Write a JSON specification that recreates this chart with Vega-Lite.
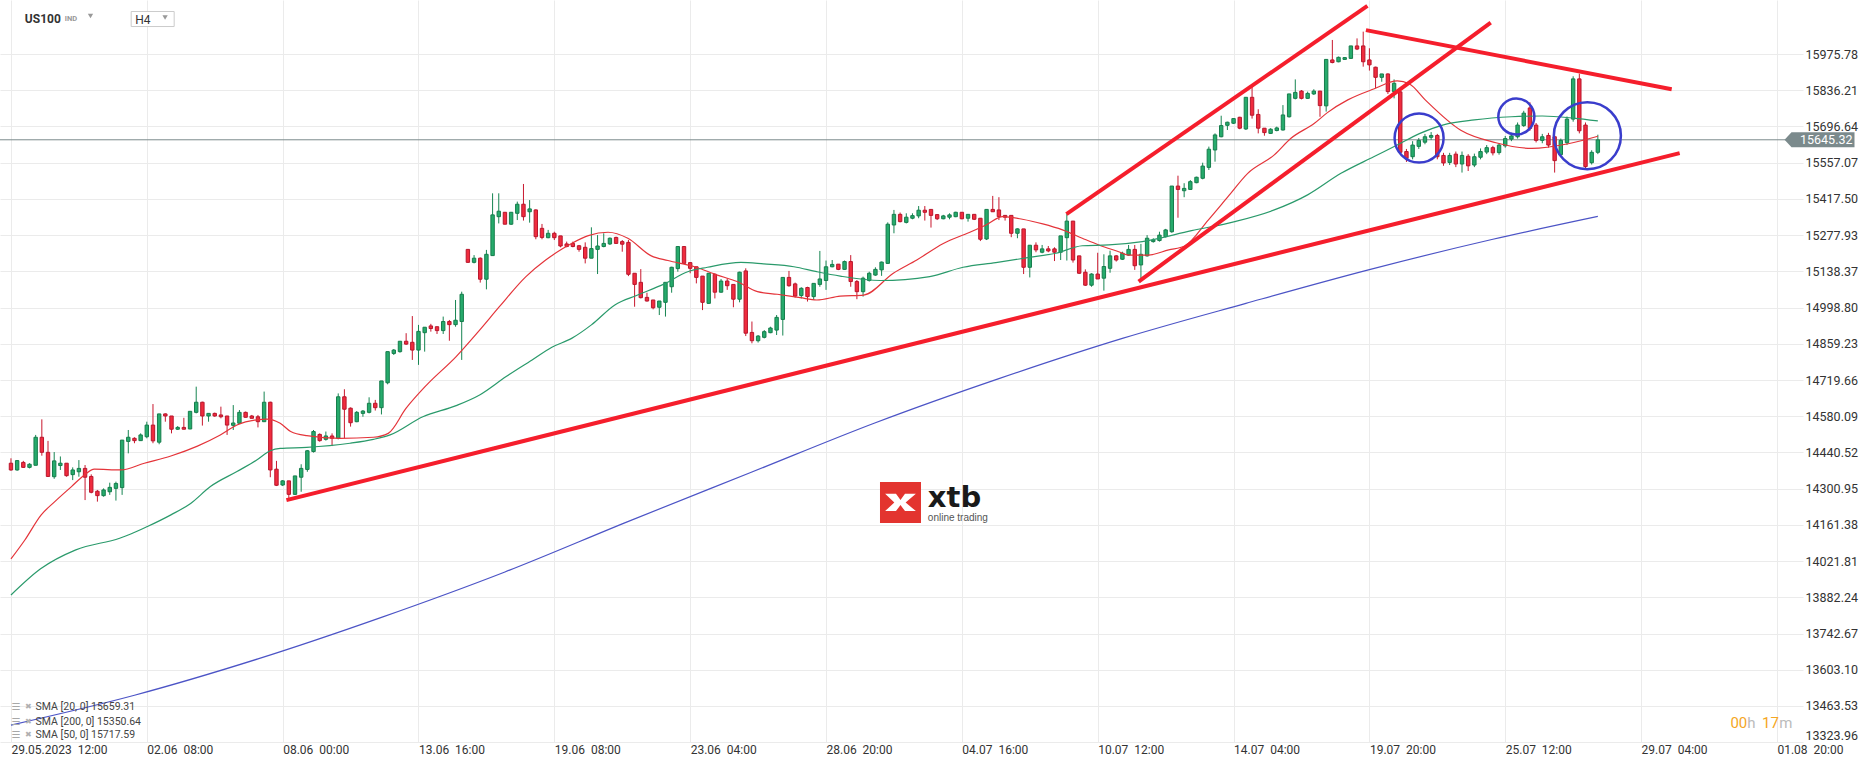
{
"$schema":"https://vega.github.io/schema/vega-lite/v6.json",
"width":1803,"height":742.2,"autosize":{"type":"none"},"padding":{"left":0,"top":0,"right":63,"bottom":24.8},"background":"white",
"config":{"view":{"stroke":null},"font":"Roboto","axis":{"ticks":false,"domain":false,"gridColor":"#ebebeb","labelFont":"Roboto","labelColor":"#333333","labelOverlap":false}},
"datasets":{
"candles":[
{"i":0,"o":14399,"h":14418,"l":14370,"c":14373},{"i":1,"o":14373,"h":14411,"l":14370,"c":14409},{"i":2,"o":14402,"h":14408,"l":14381,"c":14383},{"i":3,"o":14383,"h":14399,"l":14379,"c":14395},{"i":4,"o":14391,"h":14508,"l":14391,"c":14499},{"i":5,"o":14499,"h":14568,"l":14428,"c":14441},{"i":6,"o":14441,"h":14485,"l":14348,"c":14348},{"i":7,"o":14347,"h":14442,"l":14339,"c":14408},{"i":8,"o":14390,"h":14425,"l":14373,"c":14399},{"i":9,"o":14399,"h":14399,"l":14347,"c":14351},
{"i":10,"o":14355,"h":14383,"l":14334,"c":14373},{"i":11,"o":14366,"h":14411,"l":14347,"c":14379},{"i":12,"o":14379,"h":14392,"l":14257,"c":14345},{"i":13,"o":14348,"h":14356,"l":14283,"c":14287},{"i":14,"o":14291,"h":14296,"l":14251,"c":14274},{"i":15,"o":14274,"h":14302,"l":14270,"c":14296},{"i":16,"o":14289,"h":14324,"l":14277,"c":14306},{"i":17,"o":14302,"h":14328,"l":14255,"c":14321},{"i":18,"o":14305,"h":14488,"l":14277,"c":14488},{"i":19,"o":14483,"h":14527,"l":14437,"c":14499},
{"i":20,"o":14495,"h":14499,"l":14476,"c":14486},{"i":21,"o":14486,"h":14514,"l":14485,"c":14508},{"i":22,"o":14501,"h":14559,"l":14495,"c":14546},{"i":23,"o":14546,"h":14627,"l":14476,"c":14485},{"i":24,"o":14480,"h":14589,"l":14472,"c":14589},{"i":25,"o":14589,"h":14591,"l":14559,"c":14581},{"i":26,"o":14581,"h":14581,"l":14514,"c":14530},{"i":27,"o":14530,"h":14542,"l":14527,"c":14537},{"i":28,"o":14537,"h":14574,"l":14530,"c":14530},{"i":29,"o":14531,"h":14599,"l":14530,"c":14599},
{"i":30,"o":14595,"h":14694,"l":14591,"c":14634},{"i":31,"o":14634,"h":14636,"l":14544,"c":14581},{"i":32,"o":14581,"h":14591,"l":14559,"c":14591},{"i":33,"o":14591,"h":14594,"l":14578,"c":14581},{"i":34,"o":14585,"h":14617,"l":14572,"c":14578},{"i":35,"o":14581,"h":14581,"l":14508,"c":14546},{"i":36,"o":14545,"h":14623,"l":14527,"c":14554},{"i":37,"o":14553,"h":14604,"l":14550,"c":14595},{"i":38,"o":14595,"h":14598,"l":14575,"c":14576},{"i":39,"o":14581,"h":14585,"l":14572,"c":14572},
{"i":40,"o":14578,"h":14585,"l":14537,"c":14559},{"i":41,"o":14559,"h":14675,"l":14559,"c":14634},{"i":42,"o":14634,"h":14636,"l":14345,"c":14373},{"i":43,"o":14376,"h":14408,"l":14311,"c":14314},{"i":44,"o":14315,"h":14334,"l":14311,"c":14331},{"i":45,"o":14331,"h":14331,"l":14264,"c":14279},{"i":46,"o":14279,"h":14350,"l":14277,"c":14350},{"i":47,"o":14345,"h":14395,"l":14289,"c":14379},{"i":48,"o":14375,"h":14450,"l":14366,"c":14447},{"i":49,"o":14444,"h":14527,"l":14440,"c":14521},
{"i":50,"o":14510,"h":14514,"l":14482,"c":14486},{"i":51,"o":14491,"h":14521,"l":14486,"c":14504},{"i":52,"o":14504,"h":14514,"l":14465,"c":14495},{"i":53,"o":14495,"h":14668,"l":14491,"c":14655},{"i":54,"o":14655,"h":14684,"l":14495,"c":14607},{"i":55,"o":14611,"h":14614,"l":14540,"c":14555},{"i":56,"o":14559,"h":14600,"l":14557,"c":14595},{"i":57,"o":14591,"h":14604,"l":14578,"c":14600},{"i":58,"o":14595,"h":14653,"l":14591,"c":14630},{"i":59,"o":14630,"h":14643,"l":14602,"c":14613},
{"i":60,"o":14613,"h":14716,"l":14587,"c":14716},{"i":61,"o":14709,"h":14829,"l":14703,"c":14829},{"i":62,"o":14822,"h":14839,"l":14816,"c":14835},{"i":63,"o":14829,"h":14869,"l":14825,"c":14869},{"i":64,"o":14869,"h":14900,"l":14855,"c":14858},{"i":65,"o":14865,"h":14966,"l":14797,"c":14835},{"i":66,"o":14835,"h":14932,"l":14778,"c":14907},{"i":67,"o":14902,"h":14923,"l":14829,"c":14923},{"i":68,"o":14928,"h":14936,"l":14906,"c":14918},{"i":69,"o":14925,"h":14925,"l":14897,"c":14910},
{"i":70,"o":14910,"h":14964,"l":14897,"c":14945},{"i":71,"o":14945,"h":14951,"l":14871,"c":14933},{"i":72,"o":14933,"h":15028,"l":14925,"c":14950},{"i":73,"o":14945,"h":15060,"l":14797,"c":15050},{"i":74,"o":15223,"h":15223,"l":15172,"c":15173},{"i":75,"o":15173,"h":15201,"l":15169,"c":15189},{"i":76,"o":15189,"h":15192,"l":15095,"c":15108},{"i":77,"o":15108,"h":15221,"l":15069,"c":15204},{"i":78,"o":15199,"h":15439,"l":15199,"c":15356},{"i":79,"o":15349,"h":15439,"l":15323,"c":15370},
{"i":80,"o":15366,"h":15366,"l":15320,"c":15320},{"i":81,"o":15320,"h":15366,"l":15317,"c":15366},{"i":82,"o":15362,"h":15407,"l":15336,"c":15397},{"i":83,"o":15397,"h":15475,"l":15334,"c":15349},{"i":84,"o":15368,"h":15413,"l":15326,"c":15379},{"i":85,"o":15375,"h":15377,"l":15262,"c":15272},{"i":86,"o":15304,"h":15321,"l":15262,"c":15269},{"i":87,"o":15268,"h":15298,"l":15266,"c":15285},{"i":88,"o":15285,"h":15291,"l":15259,"c":15268},{"i":89,"o":15275,"h":15275,"l":15231,"c":15236},
{"i":90,"o":15244,"h":15253,"l":15231,"c":15234},{"i":91,"o":15246,"h":15253,"l":15231,"c":15234},{"i":92,"o":15237,"h":15240,"l":15214,"c":15223},{"i":93,"o":15231,"h":15250,"l":15169,"c":15189},{"i":94,"o":15189,"h":15308,"l":15189,"c":15226},{"i":95,"o":15223,"h":15278,"l":15128,"c":15236},{"i":96,"o":15234,"h":15285,"l":15231,"c":15246},{"i":97,"o":15244,"h":15269,"l":15240,"c":15266},{"i":98,"o":15269,"h":15272,"l":15244,"c":15246},{"i":99,"o":15253,"h":15259,"l":15214,"c":15243},
{"i":100,"o":15250,"h":15259,"l":15120,"c":15127},{"i":101,"o":15131,"h":15131,"l":15002,"c":15088},{"i":102,"o":15096,"h":15147,"l":15034,"c":15037},{"i":103,"o":15038,"h":15056,"l":15022,"c":15024},{"i":104,"o":15028,"h":15028,"l":14992,"c":14998},{"i":105,"o":15000,"h":15024,"l":14970,"c":15024},{"i":106,"o":15019,"h":15096,"l":14964,"c":15096},{"i":107,"o":15079,"h":15156,"l":15056,"c":15154},{"i":108,"o":15149,"h":15234,"l":15137,"c":15234},{"i":109,"o":15234,"h":15234,"l":15169,"c":15169},
{"i":110,"o":15172,"h":15172,"l":15131,"c":15150},{"i":111,"o":15156,"h":15156,"l":15092,"c":15115},{"i":112,"o":15120,"h":15120,"l":14989,"c":15019},{"i":113,"o":15015,"h":15131,"l":15013,"c":15131},{"i":114,"o":15127,"h":15131,"l":15034,"c":15058},{"i":115,"o":15058,"h":15109,"l":15056,"c":15101},{"i":116,"o":15101,"h":15111,"l":15067,"c":15083},{"i":117,"o":15088,"h":15088,"l":15000,"c":15031},{"i":118,"o":15031,"h":15137,"l":15019,"c":15135},{"i":119,"o":15140,"h":15150,"l":14889,"c":14900},
{"i":120,"o":14903,"h":14945,"l":14861,"c":14871},{"i":121,"o":14871,"h":14893,"l":14864,"c":14889},{"i":122,"o":14884,"h":14912,"l":14880,"c":14906},{"i":123,"o":14902,"h":14925,"l":14900,"c":14920},{"i":124,"o":14912,"h":14970,"l":14893,"c":14961},{"i":125,"o":14953,"h":15115,"l":14891,"c":15115},{"i":126,"o":15115,"h":15140,"l":15079,"c":15083},{"i":127,"o":15090,"h":15095,"l":15037,"c":15043},{"i":128,"o":15045,"h":15077,"l":15034,"c":15073},{"i":129,"o":15076,"h":15079,"l":15022,"c":15041},
{"i":130,"o":15041,"h":15092,"l":15028,"c":15092},{"i":131,"o":15088,"h":15217,"l":15079,"c":15109},{"i":132,"o":15103,"h":15180,"l":15067,"c":15156},{"i":133,"o":15156,"h":15182,"l":15154,"c":15165},{"i":134,"o":15166,"h":15166,"l":15143,"c":15146},{"i":135,"o":15146,"h":15180,"l":15144,"c":15176},{"i":136,"o":15176,"h":15201,"l":15079,"c":15099},{"i":137,"o":15099,"h":15105,"l":15031,"c":15060},{"i":138,"o":15060,"h":15118,"l":15041,"c":15112},{"i":139,"o":15103,"h":15137,"l":15099,"c":15131},
{"i":140,"o":15124,"h":15154,"l":15121,"c":15146},{"i":141,"o":15144,"h":15176,"l":15121,"c":15174},{"i":142,"o":15169,"h":15327,"l":15167,"c":15320},{"i":143,"o":15317,"h":15375,"l":15285,"c":15358},{"i":144,"o":15358,"h":15365,"l":15327,"c":15330},{"i":145,"o":15327,"h":15362,"l":15323,"c":15347},{"i":146,"o":15343,"h":15362,"l":15339,"c":15353},{"i":147,"o":15352,"h":15390,"l":15343,"c":15374},{"i":148,"o":15374,"h":15390,"l":15334,"c":15366},{"i":149,"o":15377,"h":15377,"l":15307,"c":15354},
{"i":150,"o":15357,"h":15359,"l":15336,"c":15341},{"i":151,"o":15341,"h":15356,"l":15339,"c":15352},{"i":152,"o":15347,"h":15362,"l":15339,"c":15356},{"i":153,"o":15349,"h":15368,"l":15347,"c":15366},{"i":154,"o":15366,"h":15366,"l":15339,"c":15341},{"i":155,"o":15343,"h":15358,"l":15330,"c":15358},{"i":156,"o":15358,"h":15358,"l":15336,"c":15339},{"i":157,"o":15343,"h":15343,"l":15255,"c":15262},{"i":158,"o":15263,"h":15377,"l":15259,"c":15377},{"i":159,"o":15377,"h":15429,"l":15368,"c":15368},
{"i":160,"o":15375,"h":15424,"l":15336,"c":15349},{"i":161,"o":15354,"h":15354,"l":15334,"c":15347},{"i":162,"o":15354,"h":15354,"l":15270,"c":15285},{"i":163,"o":15285,"h":15304,"l":15266,"c":15302},{"i":164,"o":15302,"h":15302,"l":15128,"c":15154},{"i":165,"o":15154,"h":15239,"l":15115,"c":15239},{"i":166,"o":15239,"h":15250,"l":15212,"c":15221},{"i":167,"o":15212,"h":15240,"l":15208,"c":15225},{"i":168,"o":15225,"h":15236,"l":15212,"c":15217},{"i":169,"o":15225,"h":15231,"l":15178,"c":15212},
{"i":170,"o":15212,"h":15275,"l":15182,"c":15275},{"i":171,"o":15268,"h":15359,"l":15180,"c":15332},{"i":172,"o":15332,"h":15332,"l":15172,"c":15182},{"i":173,"o":15198,"h":15198,"l":15128,"c":15131},{"i":174,"o":15135,"h":15146,"l":15082,"c":15085},{"i":175,"o":15085,"h":15131,"l":15079,"c":15128},{"i":176,"o":15128,"h":15210,"l":15109,"c":15109},{"i":177,"o":15112,"h":15204,"l":15064,"c":15157},{"i":178,"o":15150,"h":15218,"l":15133,"c":15198},{"i":179,"o":15198,"h":15201,"l":15176,"c":15182},
{"i":180,"o":15185,"h":15214,"l":15182,"c":15208},{"i":181,"o":15201,"h":15240,"l":15198,"c":15223},{"i":182,"o":15223,"h":15240,"l":15144,"c":15160},{"i":183,"o":15163,"h":15244,"l":15108,"c":15204},{"i":184,"o":15198,"h":15278,"l":15195,"c":15266},{"i":185,"o":15253,"h":15266,"l":15249,"c":15259},{"i":186,"o":15257,"h":15291,"l":15253,"c":15278},{"i":187,"o":15272,"h":15302,"l":15269,"c":15298},{"i":188,"o":15291,"h":15467,"l":15287,"c":15467},{"i":189,"o":15467,"h":15507,"l":15345,"c":15454},
{"i":190,"o":15449,"h":15478,"l":15424,"c":15458},{"i":191,"o":15454,"h":15490,"l":15452,"c":15484},{"i":192,"o":15480,"h":15503,"l":15478,"c":15501},{"i":193,"o":15497,"h":15557,"l":15493,"c":15544},{"i":194,"o":15539,"h":15619,"l":15529,"c":15609},{"i":195,"o":15606,"h":15670,"l":15561,"c":15664},{"i":196,"o":15657,"h":15738,"l":15655,"c":15700},{"i":197,"o":15701,"h":15715,"l":15683,"c":15713},{"i":198,"o":15709,"h":15728,"l":15706,"c":15727},{"i":199,"o":15732,"h":15734,"l":15686,"c":15690},
{"i":200,"o":15687,"h":15809,"l":15683,"c":15809},{"i":201,"o":15809,"h":15856,"l":15727,"c":15740},{"i":202,"o":15743,"h":15763,"l":15670,"c":15690},{"i":203,"o":15690,"h":15690,"l":15661,"c":15673},{"i":204,"o":15670,"h":15690,"l":15668,"c":15686},{"i":205,"o":15681,"h":15696,"l":15678,"c":15691},{"i":206,"o":15683,"h":15779,"l":15681,"c":15741},{"i":207,"o":15734,"h":15822,"l":15731,"c":15822},{"i":208,"o":15805,"h":15878,"l":15801,"c":15828},{"i":209,"o":15833,"h":15837,"l":15801,"c":15805},
{"i":210,"o":15805,"h":15831,"l":15803,"c":15824},{"i":211,"o":15822,"h":15840,"l":15818,"c":15833},{"i":212,"o":15833,"h":15833,"l":15734,"c":15777},{"i":213,"o":15776,"h":15955,"l":15754,"c":15955},{"i":214,"o":15953,"h":16030,"l":15940,"c":15943},{"i":215,"o":15946,"h":15966,"l":15944,"c":15963},{"i":216,"o":15955,"h":15964,"l":15953,"c":15962},{"i":217,"o":15959,"h":16007,"l":15957,"c":16007},{"i":218,"o":16007,"h":16036,"l":15991,"c":15995},{"i":219,"o":16007,"h":16062,"l":15927,"c":15946},
{"i":220,"o":15953,"h":15998,"l":15912,"c":15934},{"i":221,"o":15925,"h":15927,"l":15844,"c":15886},{"i":222,"o":15886,"h":15899,"l":15869,"c":15899},{"i":223,"o":15899,"h":15901,"l":15822,"c":15831},{"i":224,"o":15831,"h":15878,"l":15805,"c":15863},{"i":225,"o":15830,"h":15845,"l":15590,"c":15597},{"i":226,"o":15600,"h":15610,"l":15560,"c":15574},{"i":227,"o":15580,"h":15640,"l":15570,"c":15625},{"i":228,"o":15620,"h":15652,"l":15610,"c":15643},{"i":229,"o":15636,"h":15668,"l":15628,"c":15657},
{"i":230,"o":15655,"h":15675,"l":15645,"c":15662},{"i":231,"o":15662,"h":15668,"l":15570,"c":15580},{"i":232,"o":15585,"h":15595,"l":15545,"c":15556},{"i":233,"o":15558,"h":15595,"l":15548,"c":15585},{"i":234,"o":15590,"h":15600,"l":15540,"c":15552},{"i":235,"o":15552,"h":15600,"l":15519,"c":15585},{"i":236,"o":15582,"h":15590,"l":15525,"c":15545},{"i":237,"o":15548,"h":15592,"l":15540,"c":15580},{"i":238,"o":15578,"h":15612,"l":15570,"c":15600},{"i":239,"o":15598,"h":15625,"l":15590,"c":15615},
{"i":240,"o":15615,"h":15622,"l":15585,"c":15595},{"i":241,"o":15596,"h":15632,"l":15588,"c":15625},{"i":242,"o":15622,"h":15660,"l":15615,"c":15650},{"i":243,"o":15648,"h":15672,"l":15640,"c":15660},{"i":244,"o":15657,"h":15712,"l":15650,"c":15702},{"i":245,"o":15700,"h":15757,"l":15695,"c":15748},{"i":246,"o":15768,"h":15790,"l":15680,"c":15689},{"i":247,"o":15702,"h":15710,"l":15635,"c":15643},{"i":248,"o":15643,"h":15668,"l":15632,"c":15657},{"i":249,"o":15662,"h":15672,"l":15615,"c":15625},
{"i":250,"o":15657,"h":15662,"l":15519,"c":15565},{"i":251,"o":15588,"h":15650,"l":15580,"c":15643},{"i":252,"o":15634,"h":15735,"l":15625,"c":15725},{"i":253,"o":15725,"h":15890,"l":15715,"c":15880},{"i":254,"o":15880,"h":15900,"l":15670,"c":15680},{"i":255,"o":15702,"h":15712,"l":15530,"c":15542},{"i":256,"o":15557,"h":15605,"l":15550,"c":15597},{"i":257,"o":15597,"h":15665,"l":15590,"c":15645}
],
"sma":[
{"s":"s20","i":0,"v":14030},{"s":"s20","i":2.25,"v":14103},{"s":"s20","i":4.9,"v":14200},{"s":"s20","i":7.1,"v":14251},{"s":"s20","i":9.8,"v":14309},{"s":"s20","i":11.9,"v":14354},{"s":"s20","i":13.5,"v":14376},{"s":"s20","i":17.8,"v":14373},{"s":"s20","i":21.6,"v":14399},{"s":"s20","i":25.9,"v":14427},{"s":"s20","i":30.2,"v":14465},{"s":"s20","i":33.9,"v":14508},{"s":"s20","i":36.6,"v":14546},{"s":"s20","i":39.8,"v":14566},{"s":"s20","i":41.4,"v":14569},{"s":"s20","i":43.6,"v":14553},{"s":"s20","i":45.3,"v":14521},{"s":"s20","i":47.9,"v":14505},{"s":"s20","i":53.3,"v":14495},{"s":"s20","i":58.7,"v":14499},{"s":"s20","i":61.1,"v":14514},{"s":"s20","i":64.0,"v":14611},{"s":"s20","i":67.3,"v":14700},{"s":"s20","i":72.1,"v":14810},{"s":"s20","i":75.9,"v":14912},{"s":"s20","i":79.1,"v":15002},{"s":"s20","i":83.4,"v":15118},{"s":"s20","i":86.6,"v":15182},{"s":"s20","i":89.3,"v":15225},{"s":"s20","i":90.8,"v":15246},{"s":"s20","i":93.5,"v":15276},{"s":"s20","i":96.7,"v":15289},{"s":"s20","i":99.9,"v":15266},{"s":"s20","i":103.7,"v":15198},{"s":"s20","i":106.4,"v":15180},{"s":"s20","i":110.7,"v":15156},{"s":"s20","i":114.4,"v":15124},{"s":"s20","i":117.6,"v":15099},{"s":"s20","i":120.9,"v":15060},{"s":"s20","i":124.1,"v":15050},{"s":"s20","i":127.8,"v":15037},{"s":"s20","i":130.5,"v":15028},{"s":"s20","i":134.3,"v":15043},{"s":"s20","i":138.1,"v":15047},{"s":"s20","i":142.9,"v":15131},{"s":"s20","i":146.7,"v":15182},{"s":"s20","i":151.0,"v":15246},{"s":"s20","i":155.2,"v":15288},{"s":"s20","i":157.9,"v":15317},{"s":"s20","i":160.6,"v":15349},{"s":"s20","i":163.8,"v":15339},{"s":"s20","i":167.1,"v":15321},{"s":"s20","i":170.3,"v":15298},{"s":"s20","i":173.5,"v":15266},{"s":"s20","i":176.2,"v":15240},{"s":"s20","i":179.4,"v":15214},{"s":"s20","i":181.0,"v":15201},{"s":"s20","i":184.2,"v":15201},{"s":"s20","i":187.5,"v":15221},{"s":"s20","i":190.1,"v":15236},{"s":"s20","i":193.9,"v":15336},{"s":"s20","i":197.1,"v":15426},{"s":"s20","i":200.3,"v":15516},{"s":"s20","i":204.6,"v":15587},{"s":"s20","i":207.3,"v":15651},{"s":"s20","i":211.1,"v":15709},{"s":"s20","i":213.2,"v":15750},{"s":"s20","i":216.5,"v":15799},{"s":"s20","i":220.7,"v":15841},{"s":"s20","i":224.5,"v":15872},{"s":"s20","i":226.5,"v":15860},{"s":"s20","i":229,"v":15800},{"s":"s20","i":234.8,"v":15682},{"s":"s20","i":240.5,"v":15634},{"s":"s20","i":246.3,"v":15612},{"s":"s20","i":252.2,"v":15630},{"s":"s20","i":257,"v":15659},
{"s":"s50","i":0,"v":13891},{"s":"s50","i":4.8,"v":13992},{"s":"s50","i":10.5,"v":14065},{"s":"s50","i":17.6,"v":14110},{"s":"s50","i":19.4,"v":14126},{"s":"s50","i":22.1,"v":14155},{"s":"s50","i":25.9,"v":14200},{"s":"s50","i":29.1,"v":14244},{"s":"s50","i":32.3,"v":14309},{"s":"s50","i":36.6,"v":14367},{"s":"s50","i":39.8,"v":14411},{"s":"s50","i":42.0,"v":14447},{"s":"s50","i":43.6,"v":14456},{"s":"s50","i":47.9,"v":14460},{"s":"s50","i":54.9,"v":14476},{"s":"s50","i":58.7,"v":14491},{"s":"s50","i":61.4,"v":14508},{"s":"s50","i":66.7,"v":14578},{"s":"s50","i":72.1,"v":14621},{"s":"s50","i":75.9,"v":14662},{"s":"s50","i":80.2,"v":14733},{"s":"s50","i":84.4,"v":14797},{"s":"s50","i":87.6,"v":14846},{"s":"s50","i":90.8,"v":14880},{"s":"s50","i":94.0,"v":14932},{"s":"s50","i":97.8,"v":15009},{"s":"s50","i":101.5,"v":15047},{"s":"s50","i":105.8,"v":15090},{"s":"s50","i":109.6,"v":15137},{"s":"s50","i":112.8,"v":15154},{"s":"s50","i":118.2,"v":15173},{"s":"s50","i":121.9,"v":15167},{"s":"s50","i":126.8,"v":15156},{"s":"s50","i":130.5,"v":15137},{"s":"s50","i":134.3,"v":15120},{"s":"s50","i":140.8,"v":15103},{"s":"s50","i":148.8,"v":15118},{"s":"s50","i":154.2,"v":15154},{"s":"s50","i":159.5,"v":15172},{"s":"s50","i":164.9,"v":15192},{"s":"s50","i":169.2,"v":15208},{"s":"s50","i":173.5,"v":15237},{"s":"s50","i":177.8,"v":15240},{"s":"s50","i":183.2,"v":15253},{"s":"s50","i":191.2,"v":15295},{"s":"s50","i":198.2,"v":15330},{"s":"s50","i":204.6,"v":15375},{"s":"s50","i":210.0,"v":15433},{"s":"s50","i":215.4,"v":15516},{"s":"s50","i":220.7,"v":15580},{"s":"s50","i":224.5,"v":15625},{"s":"s50","i":228,"v":15668},{"s":"s50","i":232,"v":15703},{"s":"s50","i":237,"v":15722},{"s":"s50","i":243,"v":15734},{"s":"s50","i":248,"v":15737},{"s":"s50","i":253,"v":15729},{"s":"s50","i":257,"v":15718},
{"s":"s200","i":0,"v":13390},{"s":"s200","i":20,"v":13505},{"s":"s200","i":40,"v":13645},{"s":"s200","i":60,"v":13805},{"s":"s200","i":80,"v":13980},{"s":"s200","i":100,"v":14175},{"s":"s200","i":120,"v":14365},{"s":"s200","i":140,"v":14555},{"s":"s200","i":160,"v":14725},{"s":"s200","i":180,"v":14880},{"s":"s200","i":200,"v":15015},{"s":"s200","i":220,"v":15145},{"s":"s200","i":240,"v":15262},{"s":"s200","i":257,"v":15350}
],
"trend":[
{"g":"sup","i":44.61,"p":14257},{"g":"sup","i":270.25,"p":15594},
{"g":"up1","i":170.93,"p":15359},{"g":"up1","i":219.68,"p":16161},
{"g":"up2","i":182.63,"p":15099},{"g":"up2","i":239.65,"p":16097},
{"g":"dn","i":219.44,"p":16068},{"g":"dn","i":268.96,"p":15840}
]
},
"layer":[
{"data":{"values":[{"p":15645.32}]},"mark":{"type":"rule","color":"#7b8a8c","strokeWidth":1},
 "encoding":{"y":{"field":"p","type":"quantitative","scale":{"domain":[13323.96,16183.96],"nice":false,"zero":false},
  "axis":{"orient":"right","values":[13323.96,13463.53,13603.10,13742.67,13882.24,14021.81,14161.38,14300.95,14440.52,14580.09,14719.66,14859.23,14998.80,15138.37,15277.93,15417.50,15557.07,15696.64,15836.21,15975.78],"tickCount":60,"format":".2f","title":null,"ticks":false,"domain":false,"grid":true,"gridColor":"#ebebeb","labelFont":"Roboto","labelFontSize":12.5,"labelColor":"#333333","labelPadding":2,"labelFlush":true,"labelOverlap":false}}}},
{"data":{"name":"candles"},"mark":{"type":"rule","strokeWidth":1},
 "encoding":{"x":{"field":"i","type":"quantitative","scale":{"domain":[-0.96633,289.4139],"nice":false,"zero":false},
   "axis":{"orient":"bottom","values":[0,22,44,66,88,110,132,154,176,198,220,242,264,286],"tickCount":60,"labelExpr":"['29.05.2023\u00a0 12:00','02.06\u00a0 08:00','08.06\u00a0 00:00','13.06\u00a0 16:00','19.06\u00a0 08:00','23.06\u00a0 04:00','28.06\u00a0 20:00','04.07\u00a0 16:00','10.07\u00a0 12:00','14.07\u00a0 04:00','19.07\u00a0 20:00','25.07\u00a0 12:00','29.07\u00a0 04:00','01.08\u00a0 20:00'][round(datum.value/22)]","title":null,"ticks":false,"domain":false,"grid":true,"gridColor":"#ebebeb","labelAlign":"left","labelBaseline":"top","labelPadding":2,"labelFont":"Roboto","labelFontSize":12,"labelColor":"#333333","labelFlush":false,"labelOverlap":false}},
  "y":{"field":"l","type":"quantitative","scale":{"domain":[13323.96,16183.96],"nice":false,"zero":false},"title":null},"y2":{"field":"h"},
  "color":{"condition":{"test":"datum.c >= datum.o","value":"#178552"},"value":"#c8182e"}}},
{"data":{"name":"candles"},"mark":{"type":"bar","size":3.4,"strokeWidth":1},
 "encoding":{"x":{"field":"i","type":"quantitative","scale":{"domain":[-0.96633,289.4139],"nice":false,"zero":false},"title":null},
  "y":{"field":"o","type":"quantitative","scale":{"domain":[13323.96,16183.96],"nice":false,"zero":false},"title":null},"y2":{"field":"c"},
  "fill":{"condition":{"test":"datum.c >= datum.o","value":"#26ab6c"},"value":"#f02c3e"},
  "stroke":{"condition":{"test":"datum.c >= datum.o","value":"#167d4c"},"value":"#b8162c"}}},
{"data":{"name":"sma"},"mark":{"type":"line","strokeWidth":1.2,"interpolate":"monotone"},
 "encoding":{"x":{"field":"i","type":"quantitative","scale":{"domain":[-0.96633,289.4139],"nice":false,"zero":false},"title":null},
  "y":{"field":"v","type":"quantitative","scale":{"domain":[13323.96,16183.96],"nice":false,"zero":false},"title":null},
  "color":{"field":"s","type":"nominal","scale":{"domain":["s200","s50","s20"],"range":["#4c54c6","#2a9a6b","#e4343a"]},"legend":null}}},
{"data":{"name":"trend"},"mark":{"type":"line","strokeWidth":4,"color":"#f51e2c"},
 "encoding":{"x":{"field":"i","type":"quantitative","scale":{"domain":[-0.96633,289.4139],"nice":false,"zero":false},"title":null},
  "y":{"field":"p","type":"quantitative","scale":{"domain":[13323.96,16183.96],"nice":false,"zero":false},"title":null},"detail":{"field":"g"}}},
{"data":{"values":[{"i":228.05,"p":15652}]},"mark":{"type":"point","filled":false,"shape":"circle","stroke":"#3a3dcc","strokeWidth":2.5,"opacity":1,"size":2400},
 "encoding":{"x":{"field":"i","type":"quantitative","scale":{"domain":[-0.96633,289.4139],"nice":false,"zero":false},"title":null},"y":{"field":"p","type":"quantitative","scale":{"domain":[13323.96,16183.96],"nice":false,"zero":false},"title":null}}},
{"data":{"values":[{"i":243.8,"p":15735}]},"mark":{"type":"point","filled":false,"shape":"circle","stroke":"#3a3dcc","strokeWidth":2.5,"opacity":1,"size":1300},
 "encoding":{"x":{"field":"i","type":"quantitative","scale":{"domain":[-0.96633,289.4139],"nice":false,"zero":false},"title":null},"y":{"field":"p","type":"quantitative","scale":{"domain":[13323.96,16183.96],"nice":false,"zero":false},"title":null}}},
{"data":{"values":[{"i":255.3,"p":15661}]},"mark":{"type":"point","filled":false,"shape":"circle","stroke":"#3a3dcc","strokeWidth":2.5,"opacity":1,"size":4500},
 "encoding":{"x":{"field":"i","type":"quantitative","scale":{"domain":[-0.96633,289.4139],"nice":false,"zero":false},"title":null},"y":{"field":"p","type":"quantitative","scale":{"domain":[13323.96,16183.96],"nice":false,"zero":false},"title":null}}},
{"data":{"values":[{"i":144.06,"p":14247.7}]},"mark":{"type":"point","shape":"square","filled":true,"color":"#e3342f","size":1681,"opacity":1},
 "encoding":{"x":{"field":"i","type":"quantitative","scale":{"domain":[-0.96633,289.4139],"nice":false,"zero":false},"title":null},"y":{"field":"p","type":"quantitative","scale":{"domain":[13323.96,16183.96],"nice":false,"zero":false},"title":null}}},
{"data":{"values":[{"i":144.06,"p":14247.7}]},"mark":{"type":"point","shape":"M-0.75,-0.42L-0.22,-0.42L0,-0.12L0.22,-0.42L0.75,-0.42L0.25,0L0.75,0.42L0.22,0.42L0,0.12L-0.22,0.42L-0.75,0.42L-0.3,0Z","filled":true,"color":"#ffffff","size":1681,"opacity":1},
 "encoding":{"x":{"field":"i","type":"quantitative","scale":{"domain":[-0.96633,289.4139],"nice":false,"zero":false},"title":null},"y":{"field":"p","type":"quantitative","scale":{"domain":[13323.96,16183.96],"nice":false,"zero":false},"title":null}}},
{"data":{"values":[{"t":"xtb","i":148.49,"p":14230.3}]},"mark":{"type":"text","align":"left","baseline":"alphabetic","font":"DejaVu Sans","fontWeight":"bold","fontSize":29,"color":"#1a1a1a"},
 "encoding":{"x":{"field":"i","type":"quantitative","scale":{"domain":[-0.96633,289.4139],"nice":false,"zero":false},"title":null},"y":{"field":"p","type":"quantitative","scale":{"domain":[13323.96,16183.96],"nice":false,"zero":false},"title":null},"text":{"field":"t"}}},
{"data":{"values":[{"t":"online trading","i":148.49,"p":14176.4}]},"mark":{"type":"text","align":"left","baseline":"alphabetic","font":"Liberation Sans","fontSize":10,"color":"#555555"},
 "encoding":{"x":{"field":"i","type":"quantitative","scale":{"domain":[-0.96633,289.4139],"nice":false,"zero":false},"title":null},"y":{"field":"p","type":"quantitative","scale":{"domain":[13323.96,16183.96],"nice":false,"zero":false},"title":null},"text":{"field":"t"}}},
{"data":{"values":[{"t":"US100","i":2.25,"p":16110.7}]},"mark":{"type":"text","align":"left","baseline":"middle","font":"Roboto","fontWeight":"bold","fontSize":12,"color":"#333333"},
 "encoding":{"x":{"field":"i","type":"quantitative","scale":{"domain":[-0.96633,289.4139],"nice":false,"zero":false},"title":null},"y":{"field":"p","type":"quantitative","scale":{"domain":[13323.96,16183.96],"nice":false,"zero":false},"title":null},"text":{"field":"t"}}},
{"data":{"values":[{"t":"IND","i":8.7,"p":16110.7}]},"mark":{"type":"text","align":"left","baseline":"middle","font":"Roboto","fontWeight":"bold","fontSize":7.5,"color":"#999999"},
 "encoding":{"x":{"field":"i","type":"quantitative","scale":{"domain":[-0.96633,289.4139],"nice":false,"zero":false},"title":null},"y":{"field":"p","type":"quantitative","scale":{"domain":[13323.96,16183.96],"nice":false,"zero":false},"title":null},"text":{"field":"t"}}},
{"data":{"values":[{"i":22.95,"p":16110.7}]},"mark":{"type":"point","shape":"M-1,-0.349L1,-0.349L1,0.349L-1,0.349Z","filled":true,"fill":"#ffffff","stroke":"#cccccc","strokeWidth":1,"size":1849,"opacity":1},
 "encoding":{"x":{"field":"i","type":"quantitative","scale":{"domain":[-0.96633,289.4139],"nice":false,"zero":false},"title":null},"y":{"field":"p","type":"quantitative","scale":{"domain":[13323.96,16183.96],"nice":false,"zero":false},"title":null}}},
{"data":{"values":[{"t":"H4","i":20.13,"p":16108}]},"mark":{"type":"text","align":"left","baseline":"middle","font":"Roboto","fontSize":12,"color":"#333333"},
 "encoding":{"x":{"field":"i","type":"quantitative","scale":{"domain":[-0.96633,289.4139],"nice":false,"zero":false},"title":null},"y":{"field":"p","type":"quantitative","scale":{"domain":[13323.96,16183.96],"nice":false,"zero":false},"title":null},"text":{"field":"t"}}},
{"data":{"values":[{"i":12.88,"p":16122.3},{"i":24.96,"p":16116.6}]},"mark":{"type":"point","shape":"triangle-down","filled":true,"color":"#999999","size":28,"opacity":1},
 "encoding":{"x":{"field":"i","type":"quantitative","scale":{"domain":[-0.96633,289.4139],"nice":false,"zero":false},"title":null},"y":{"field":"p","type":"quantitative","scale":{"domain":[13323.96,16183.96],"nice":false,"zero":false},"title":null}}},
{"data":{"values":[{"t":"SMA [20, 0] 15659.31","i":3.98,"p":13460.8},{"t":"SMA [200, 0] 15350.64","i":3.98,"p":13403.0},{"t":"SMA [50, 0] 15717.59","i":3.98,"p":13351.7}]},"mark":{"type":"text","align":"left","baseline":"middle","font":"Roboto","fontSize":10.5,"color":"#444444"},
 "encoding":{"x":{"field":"i","type":"quantitative","scale":{"domain":[-0.96633,289.4139],"nice":false,"zero":false},"title":null},"y":{"field":"p","type":"quantitative","scale":{"domain":[13323.96,16183.96],"nice":false,"zero":false},"title":null},"text":{"field":"t"}}},
{"data":{"values":[{"i":0.8,"p":13460.8},{"i":0.8,"p":13403.0},{"i":0.8,"p":13351.7}]},"mark":{"type":"text","align":"center","baseline":"middle","font":"DejaVu Sans","fontSize":10,"color":"#a8a8a8","text":"☰"},
 "encoding":{"x":{"field":"i","type":"quantitative","scale":{"domain":[-0.96633,289.4139],"nice":false,"zero":false},"title":null},"y":{"field":"p","type":"quantitative","scale":{"domain":[13323.96,16183.96],"nice":false,"zero":false},"title":null}}},
{"data":{"values":[{"i":2.8,"p":13460.8},{"i":2.8,"p":13403.0},{"i":2.8,"p":13351.7}]},"mark":{"type":"text","align":"center","baseline":"middle","font":"DejaVu Sans","fontSize":8,"color":"#b0b0b0","text":"✖"},
 "encoding":{"x":{"field":"i","type":"quantitative","scale":{"domain":[-0.96633,289.4139],"nice":false,"zero":false},"title":null},"y":{"field":"p","type":"quantitative","scale":{"domain":[13323.96,16183.96],"nice":false,"zero":false},"title":null}}},
{"data":{"values":[{"i":292.9,"p":15645.32}]},"mark":{"type":"point","shape":"M-1,0L-0.8,-0.214L1,-0.214L1,0.214L-0.8,0.214Z","filled":true,"color":"#7b8a8c","size":4900,"opacity":1},
 "encoding":{"x":{"field":"i","type":"quantitative","scale":{"domain":[-0.96633,289.4139],"nice":false,"zero":false},"title":null},"y":{"field":"p","type":"quantitative","scale":{"domain":[13323.96,16183.96],"nice":false,"zero":false},"title":null}}},
{"data":{"values":[{"t":"15645.32","i":289.74,"p":15645.32}]},"mark":{"type":"text","align":"left","baseline":"middle","font":"Roboto","fontSize":12.5,"color":"#ffffff"},
 "encoding":{"x":{"field":"i","type":"quantitative","scale":{"domain":[-0.96633,289.4139],"nice":false,"zero":false},"title":null},"y":{"field":"p","type":"quantitative","scale":{"domain":[13323.96,16183.96],"nice":false,"zero":false},"title":null},"text":{"field":"t"}}},
{"data":{"values":[{"t":"00","i":278.47,"p":13378.7},{"t":"17","i":283.6,"p":13378.7}]},"mark":{"type":"text","align":"left","baseline":"alphabetic","font":"Roboto","fontSize":15,"color":"#f5a623"},
 "encoding":{"x":{"field":"i","type":"quantitative","scale":{"domain":[-0.96633,289.4139],"nice":false,"zero":false},"title":null},"y":{"field":"p","type":"quantitative","scale":{"domain":[13323.96,16183.96],"nice":false,"zero":false},"title":null},"text":{"field":"t"}}},
{"data":{"values":[{"t":"h","i":281.2,"p":13378.7},{"t":"m","i":286.36,"p":13378.7}]},"mark":{"type":"text","align":"left","baseline":"alphabetic","font":"Roboto","fontSize":15,"color":"#bbbbbb"},
 "encoding":{"x":{"field":"i","type":"quantitative","scale":{"domain":[-0.96633,289.4139],"nice":false,"zero":false},"title":null},"y":{"field":"p","type":"quantitative","scale":{"domain":[13323.96,16183.96],"nice":false,"zero":false},"title":null},"text":{"field":"t"}}}
]
}
